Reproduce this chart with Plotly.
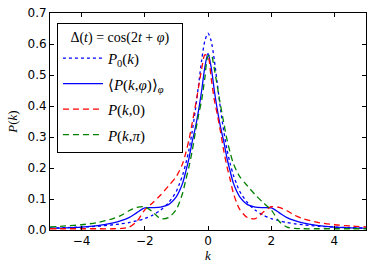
import plotly.graph_objects as go

# k grid
k = [-5.0, -4.5, -4.0, -3.5, -3.0, -2.75, -2.5, -2.25, -2.0, -1.75, -1.5, -1.25,
     -1.0, -0.9, -0.8, -0.7, -0.6, -0.5, -0.4, -0.3, -0.2, -0.1, 0.0,
     0.1, 0.2, 0.3, 0.4, 0.5, 0.6, 0.7, 0.8, 0.9, 1.0,
     1.25, 1.5, 1.75, 2.0, 2.25, 2.5, 2.75, 3.0, 3.5, 4.0, 4.5, 5.0]

# P0(k)
p0 = [0.006, 0.0077, 0.0095, 0.012, 0.017, 0.020, 0.024, 0.030, 0.037, 0.048, 0.064, 0.088,
      0.125, 0.150, 0.178, 0.215, 0.260, 0.318, 0.387, 0.467, 0.548, 0.610, 0.635,
      0.610, 0.548, 0.467, 0.387, 0.318, 0.260, 0.215, 0.178, 0.150, 0.125,
      0.088, 0.064, 0.048, 0.037, 0.030, 0.024, 0.020, 0.017, 0.012, 0.0095, 0.0077, 0.006]

# <P(k,phi)>_phi
pavg = [0.006, 0.007, 0.009, 0.014, 0.023, 0.030, 0.040, 0.056, 0.071, 0.072, 0.074, 0.082,
        0.108, 0.127, 0.152, 0.190, 0.232, 0.285, 0.330, 0.385, 0.450, 0.525, 0.570,
        0.525, 0.450, 0.385, 0.330, 0.285, 0.232, 0.190, 0.152, 0.127, 0.108,
        0.082, 0.074, 0.072, 0.071, 0.056, 0.040, 0.030, 0.023, 0.014, 0.009, 0.007, 0.006]

# P(k,0)
pzero = [0.004, 0.004, 0.004, 0.004, 0.004, 0.005, 0.009, 0.028, 0.065, 0.088, 0.113, 0.142,
         0.173, 0.192, 0.215, 0.250, 0.292, 0.345, 0.400, 0.460, 0.520, 0.565, 0.560,
         0.490, 0.420, 0.370, 0.315, 0.255, 0.205, 0.163, 0.120, 0.090, 0.067,
         0.040, 0.037, 0.058, 0.075, 0.073, 0.062, 0.047, 0.037, 0.024, 0.017, 0.013, 0.010]

# P(k,pi)
ppi = [0.010, 0.013, 0.017, 0.024, 0.037, 0.047, 0.062, 0.073, 0.075, 0.058, 0.037, 0.040,
       0.067, 0.090, 0.120, 0.163, 0.205, 0.255, 0.315, 0.370, 0.420, 0.490, 0.560,
       0.565, 0.520, 0.460, 0.400, 0.345, 0.292, 0.250, 0.215, 0.192, 0.173,
       0.142, 0.113, 0.088, 0.065, 0.028, 0.009, 0.005, 0.004, 0.004, 0.004, 0.004, 0.004]

x_ticks = [-4, -2, 0, 2, 4]
y_ticks = [0.0, 0.1, 0.2, 0.3, 0.4, 0.5, 0.6, 0.7]

serif = "Liberation Serif"

fig = go.Figure()
series = [
    (p0, "<i>P</i><sub>0</sub>(<i>k</i>)", "#0000ff", "dot", "g1"),
    (pavg, "⟨<i>P</i>(<i>k</i>,<i>φ</i>)⟩<sub><i>φ</i></sub>", "#0000ff", "solid", "g2"),
    (pzero, "<i>P</i>(<i>k</i>,0)", "#ff0000", "6px,4px", "g3"),
    (ppi, "<i>P</i>(<i>k</i>,<i>π</i>)", "#008000", "6px,4px", "g4"),
]
for y, name, col, dash, grp in series:
    fig.add_trace(go.Scatter(
        x=k, y=y, mode="lines", name=name, legendgroup=grp,
        line=dict(color=col, width=1.3, dash=dash, shape="spline", smoothing=0.8),
    ))

axis_common = dict(
    showline=True, linecolor="black", linewidth=1, mirror="allticks",
    ticks="inside", ticklen=4, tickwidth=1, tickcolor="black",
    showgrid=False, zeroline=False, automargin=False,
    tickfont=dict(family="DejaVu Sans", size=12, color="black"),
)

fig.update_layout(
    width=374, height=269,
    margin=dict(l=50, r=8, t=13, b=39),
    paper_bgcolor="white", plot_bgcolor="white",
    xaxis=dict(range=[-5, 5], tickvals=x_ticks,
               ticktext=[("−" + str(-v)) if v < 0 else str(v) for v in x_ticks],
               title=dict(text="<i>k</i>", font=dict(family=serif, size=13, color="black"),
                          standoff=2),
               **axis_common),
    yaxis=dict(range=[0, 0.7], tickvals=y_ticks,
               ticktext=[f"{v:.1f}" for v in y_ticks],
               title=dict(text="<i>P</i>(<i>k</i>)", font=dict(family=serif, size=13, color="black"),
                          standoff=6),
               **axis_common),
    showlegend=True,
    legend=dict(
        x=0.022, y=0.955, xanchor="left", yanchor="top",
        bgcolor="white", bordercolor="black", borderwidth=1,
        font=dict(family=serif, size=15, color="black"),
        title=dict(text="\u00a0\u00a0\u00a0Δ(<i>t</i>) = cos(2<i>t</i> + <i>φ</i>)\u00a0\u00a0\u00a0",
                   font=dict(family=serif, size=14, color="black"), side="top"),
        tracegroupgap=3, itemwidth=40,
    ),
)

fig.write_html("out.html", config={"displayModeBar": False},
               post_script="document.body.style.margin='0';")
